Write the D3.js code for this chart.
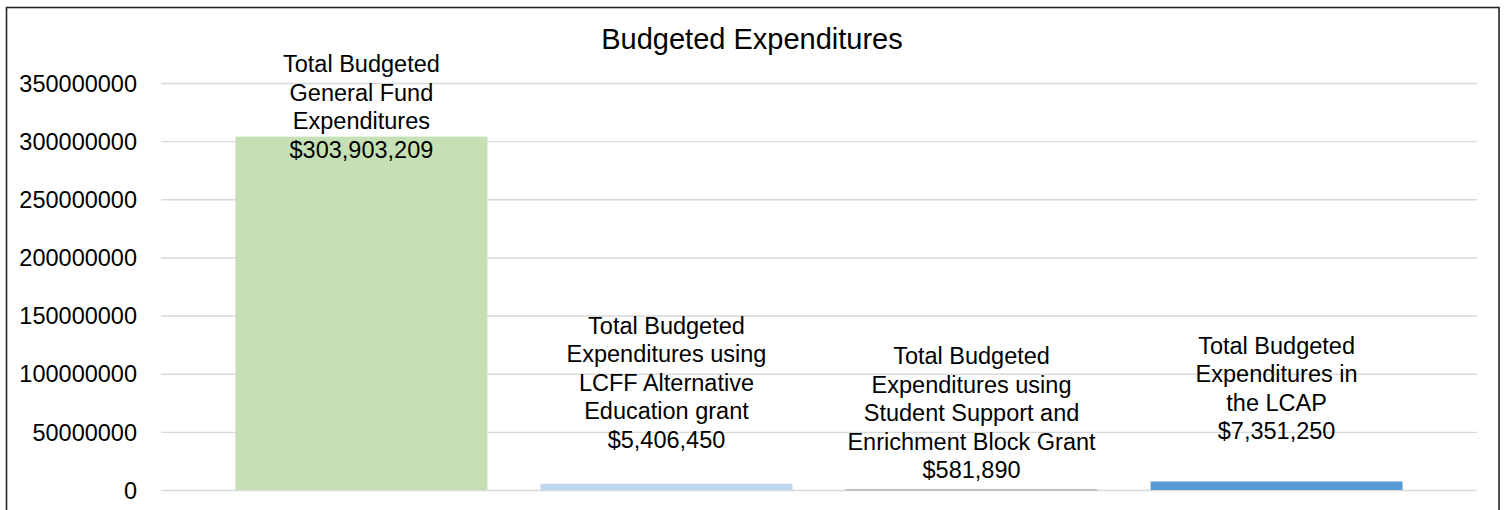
<!DOCTYPE html>
<html>
<head>
<meta charset="utf-8">
<script src="https://cdn.jsdelivr.net/npm/d3@7"></script>
<style>
  html, body { margin: 0; padding: 0; background: #fff; }
  svg { display: block; font-family: "Liberation Sans", Arial, sans-serif; }
</style>
</head>
<body>
<svg id="chart" width="1507" height="510"></svg>
<script>
// ---- data ----
const categories = [
  "Total Budgeted General Fund Expenditures",
  "Total Budgeted Expenditures using LCFF Alternative Education grant",
  "Total Budgeted Expenditures using Student Support and Enrichment Block Grant",
  "Total Budgeted Expenditures in the LCAP"
];
const labelLines = [
  ["Total Budgeted", "General Fund", "Expenditures"],
  ["Total Budgeted", "Expenditures using", "LCFF Alternative", "Education grant"],
  ["Total Budgeted", "Expenditures using", "Student Support and", "Enrichment Block Grant"],
  ["Total Budgeted", "Expenditures in", "the LCAP"]
];
const values = [303903209, 5406450, 581890, 7351250];
const yTicks = [0, 50000000, 100000000, 150000000, 200000000, 250000000, 300000000, 350000000];
const title = "Budgeted Expenditures";

// ---- styles / layout (not data) ----
const barColors = ["#c5e0b4", "#bdd7ee", "#a5a5a5", "#5b9bd5"];
// baseline of the last label line, relative to bar top (px)
const labelOffsets = [21, -36, -11, -42];

const svg = d3.select("#chart");
const plot = { left: 161, right: 1477, top: 83, bottom: 490 };

// chart border
svg.append("rect")
  .attr("x", 6.5).attr("y", 7.5)
  .attr("width", 1492.5).attr("height", 540)
  .attr("fill", "#fff")
  .attr("stroke", "#262626").attr("stroke-width", 1.6);

const x = d3.scaleBand()
  .domain(categories)
  .range([plot.left, plot.right])
  .paddingInner(0.174)
  .paddingOuter(0.244);

const y = d3.scaleLinear()
  .domain([0, 350000000])
  .range([plot.bottom, plot.top]);

// gridlines
svg.append("g")
  .attr("transform", `translate(${plot.left},0)`)
  .call(d3.axisLeft(y).tickValues(yTicks).tickSize(-(plot.right - plot.left)).tickFormat(""))
  .call(g => g.select(".domain").remove())
  .call(g => g.selectAll("line").attr("stroke", "#d9d9d9").attr("stroke-width", 1.4));

// y labels
svg.append("g")
  .attr("transform", `translate(137,0)`)
  .call(d3.axisLeft(y).tickValues(yTicks).tickSize(0).tickPadding(0).tickFormat(d3.format("d")))
  .call(g => g.select(".domain").remove())
  .call(g => g.selectAll("text")
    .attr("fill", "#000")
    .style("font-size", "23.5px")
    .style("font-family", "'Liberation Sans', Arial, sans-serif")
    .attr("dy", "0.35em"));

// bars
svg.append("g").selectAll("rect")
  .data(values)
  .join("rect")
  .attr("x", (d, i) => x(categories[i]))
  .attr("width", x.bandwidth())
  .attr("y", d => y(d))
  .attr("height", d => Math.max(1, y(0) - y(d)))
  .attr("fill", (d, i) => barColors[i]);

// data labels
const fmt = v => "$" + d3.format(",")(v);
const lh = 28.5;
const lbl = svg.append("g").attr("font-size", "23.5px").attr("fill", "#000").attr("text-anchor", "middle");
values.forEach((v, i) => {
  const lines = labelLines[i].concat([fmt(v)]);
  const cx = x(categories[i]) + x.bandwidth() / 2;
  const lastBase = y(v) + labelOffsets[i];
  const t = lbl.append("text").attr("x", cx);
  lines.forEach((ln, j) => {
    t.append("tspan")
      .attr("x", cx)
      .attr("y", lastBase - (lines.length - 1 - j) * lh)
      .text(ln);
  });
});

// title
svg.append("text")
  .attr("x", 752).attr("y", 49)
  .attr("text-anchor", "middle")
  .attr("font-size", "29px")
  .attr("fill", "#000")
  .text(title);
</script>
</body>
</html>
